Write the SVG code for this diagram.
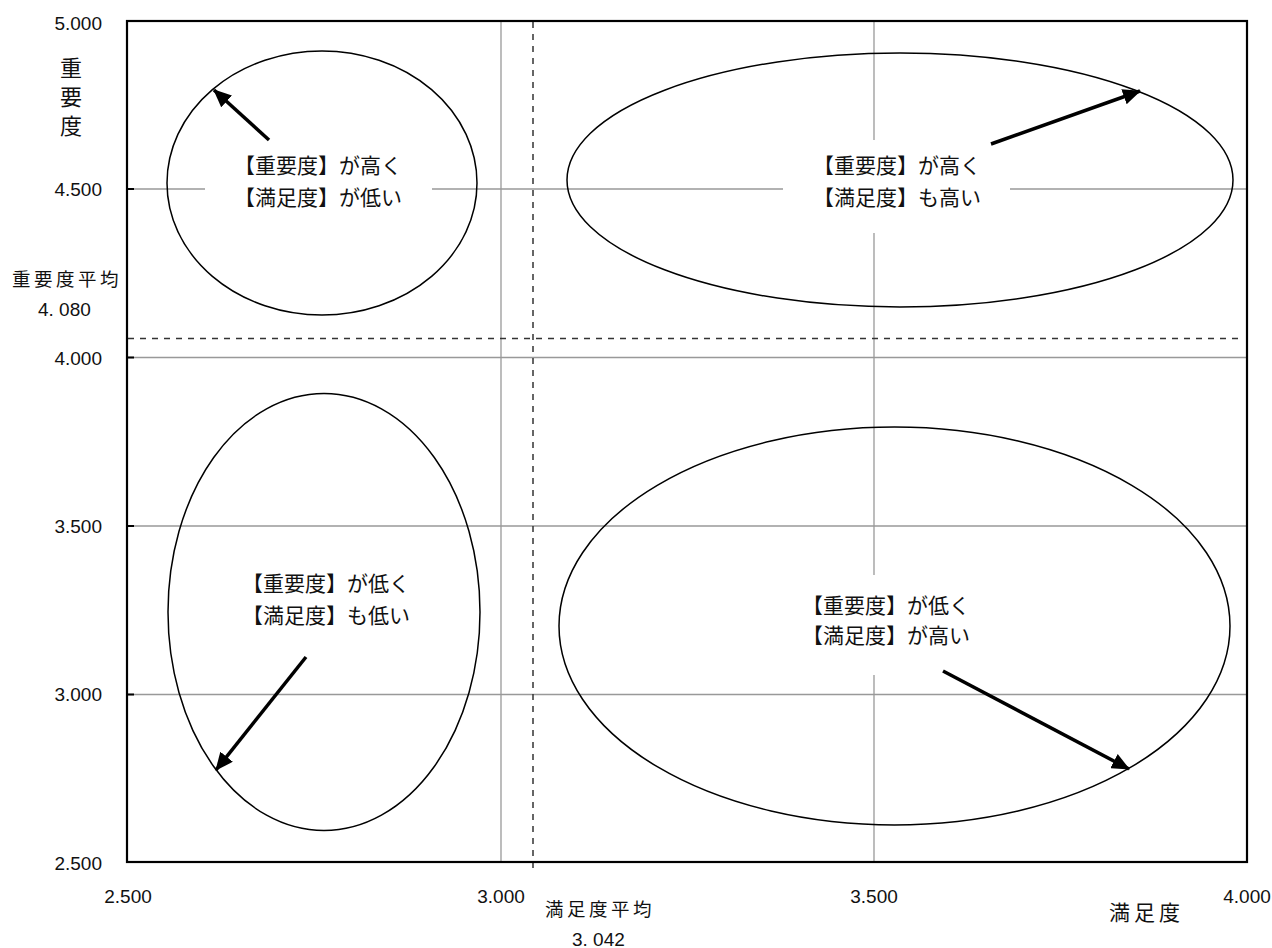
<svg xmlns="http://www.w3.org/2000/svg" width="1272" height="948" viewBox="0 0 1272 948">
<style>
.grid{stroke:#999;stroke-width:1.3;fill:none}
.dash{stroke:#333;stroke-width:1.5;stroke-dasharray:6,6;fill:none}
.frame{stroke:#000;stroke-width:2.2;fill:none}
.tick{stroke:#000;stroke-width:2}
.ell{fill:none;stroke:#000;stroke-width:1.5}
.mask{fill:#fff;stroke:none}
.num{font-family:"Liberation Sans",Arial,sans-serif;font-size:19px;fill:#111}
.lbl{font-family:"Noto Sans CJK JP","Noto Sans CJK SC",sans-serif;font-size:21px;fill:#111;text-anchor:middle}
.ax{font-family:"Noto Sans CJK JP","Noto Sans CJK SC",sans-serif;font-size:18.5px;fill:#111;letter-spacing:3.5px}
.arrow{stroke:#000;stroke-width:3.5;fill:none;marker-end:url(#ah)}
</style>
<defs>
<marker id="ah" markerUnits="userSpaceOnUse" markerWidth="18" markerHeight="16" viewBox="0 0 18 16" refX="17" refY="8" orient="auto">
<path d="M0,0 L18,8 L0,16 Z" fill="#000"/>
</marker>
</defs>
<rect width="1272" height="948" fill="#fff"/>
<g id="grid">
<line class="grid" x1="127" y1="189" x2="1247" y2="189"/>
<line class="grid" x1="127" y1="357.5" x2="1247" y2="357.5"/>
<line class="grid" x1="127" y1="526" x2="1247" y2="526"/>
<line class="grid" x1="127" y1="694.5" x2="1247" y2="694.5"/>
<line class="grid" x1="501" y1="21" x2="501" y2="862"/>
<line class="grid" x1="874" y1="21" x2="874" y2="862"/>
</g>
<g id="averages">
<line class="dash" x1="533" y1="22" x2="533" y2="868"/>
<line class="dash" x1="128" y1="338.5" x2="1244" y2="338.5"/>
</g>
<g id="masks">
<rect class="mask" x="205" y="140" width="227" height="93"/>
<rect class="mask" x="783" y="140" width="227" height="93"/>
<rect class="mask" x="212" y="553" width="227" height="93"/>
<rect class="mask" x="772" y="575" width="228" height="100"/>
</g>
<g id="q-high-imp-low-sat">
<ellipse class="ell" cx="322" cy="183" rx="155" ry="132"/>
<text class="lbl" x="318" y="173">【重要度】が高く</text>
<text class="lbl" x="318" y="205">【満足度】が低い</text>
</g>
<g id="q-high-imp-high-sat">
<ellipse class="ell" cx="900" cy="180" rx="333" ry="127"/>
<text class="lbl" x="897" y="173">【重要度】が高く</text>
<text class="lbl" x="897" y="205">【満足度】も高い</text>
</g>
<g id="q-low-imp-low-sat">
<ellipse class="ell" cx="324" cy="612" rx="156" ry="218.5"/>
<text class="lbl" x="326" y="591">【重要度】が低く</text>
<text class="lbl" x="326" y="623">【満足度】も低い</text>
</g>
<g id="q-low-imp-high-sat">
<ellipse class="ell" cx="894.5" cy="626" rx="335.5" ry="199"/>
<text class="lbl" x="886" y="613">【重要度】が低く</text>
<text class="lbl" x="886" y="643">【満足度】が高い</text>
</g>
<g id="connectors">
<line class="arrow" x1="269" y1="140" x2="214" y2="90"/>
<line class="arrow" x1="991" y1="144" x2="1140" y2="91"/>
<line class="arrow" x1="306" y1="657" x2="216" y2="770"/>
<line class="arrow" x1="943" y1="671" x2="1129" y2="769"/>
</g>
<g id="axes">
<rect class="frame" x="127" y="21" width="1120" height="841"/>
<line class="tick" x1="127" y1="189" x2="134" y2="189"/>
<line class="tick" x1="127" y1="357.5" x2="134" y2="357.5"/>
<line class="tick" x1="127" y1="526" x2="134" y2="526"/>
<line class="tick" x1="127" y1="694.5" x2="134" y2="694.5"/>
<g class="num" text-anchor="end">
<text x="102" y="30">5.000</text>
<text x="102" y="196">4.500</text>
<text x="102" y="365">4.000</text>
<text x="102" y="533">3.500</text>
<text x="102" y="701">3.000</text>
<text x="102" y="870">2.500</text>
</g>
<g class="num" text-anchor="middle">
<text x="128" y="903">2.500</text>
<text x="501" y="903">3.000</text>
<text x="874" y="903">3.500</text>
<text x="1247" y="903">4.000</text>
</g>
<g style="font-family:'Noto Sans CJK JP','Noto Sans CJK SC',sans-serif;font-size:22px;fill:#111" text-anchor="middle">
<text x="71" y="76">重</text>
<text x="71" y="105">要</text>
<text x="71" y="134">度</text>
</g>
<text class="ax" x="12" y="286">重要度平均</text>
<text class="num" x="38" y="316">4. 080</text>
<text class="ax" x="545" y="916">満足度平均</text>
<text class="num" x="572" y="946">3. 042</text>
<text class="ax" style="font-size:21px;letter-spacing:4px" x="1109" y="920">満足度</text>
</g>
</svg>
